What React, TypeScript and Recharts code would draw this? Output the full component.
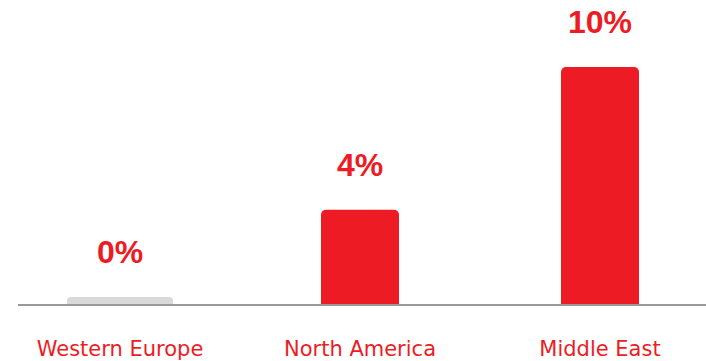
import React from "react";
import { BarChart, Bar, XAxis, YAxis, LabelList, Cell, Rectangle } from "recharts";

const regions = ["Western Europe", "North America", "Middle East"];
const shares = [0, 4, 10];
const barColors = ["#d9d9d9", "#ed1c24", "#ed1c24"];

const data = regions.map((name, i) => ({ name, value: shares[i] }));

const RED = "#ed1c24";

const BarShape = (props: any) => {
  const wide = props.payload && props.payload.value === 0;
  const extra = wide ? 28 : 0;
  return (
    <Rectangle
      x={props.x - extra / 2}
      y={props.y}
      width={props.width + extra}
      height={props.height}
      fill={props.fill}
      radius={[5, 5, 0, 0]}
    />
  );
};

export default function App() {
  return (
    <div style={{ position: "absolute", left: 0, top: 0, width: 706, height: 361, background: "#fff" }}>
      <BarChart
        width={706}
        height={361}
        data={data}
        margin={{ top: 67, right: 0, bottom: 0, left: 18 }}
      >
        <XAxis
          dataKey="name"
          height={56}
          padding={{ left: -18, right: -14 }}
          axisLine={{ stroke: "#9a9a9a", strokeWidth: 2 }}
          tickLine={false}
          tickMargin={30}
          tick={{ fill: RED, fontSize: 21, fontFamily: "DejaVu Sans" }}
          interval={0}
        />
        <YAxis hide domain={[0, 10]} />
        <Bar
          dataKey="value"
          barSize={78}
          minPointSize={8}
          isAnimationActive={false}
          shape={BarShape}
        >
          {data.map((d, i) => (
            <Cell key={d.name} fill={barColors[i]} />
          ))}
          <LabelList
            dataKey="value"
            position="top"
            offset={34}
            formatter={(v: any) => `${v}%`}
            fill={RED}
            fontSize={32}
            fontWeight="bold"
            fontFamily="Liberation Sans, Arial, sans-serif"
          />
        </Bar>
      </BarChart>
    </div>
  );
}
